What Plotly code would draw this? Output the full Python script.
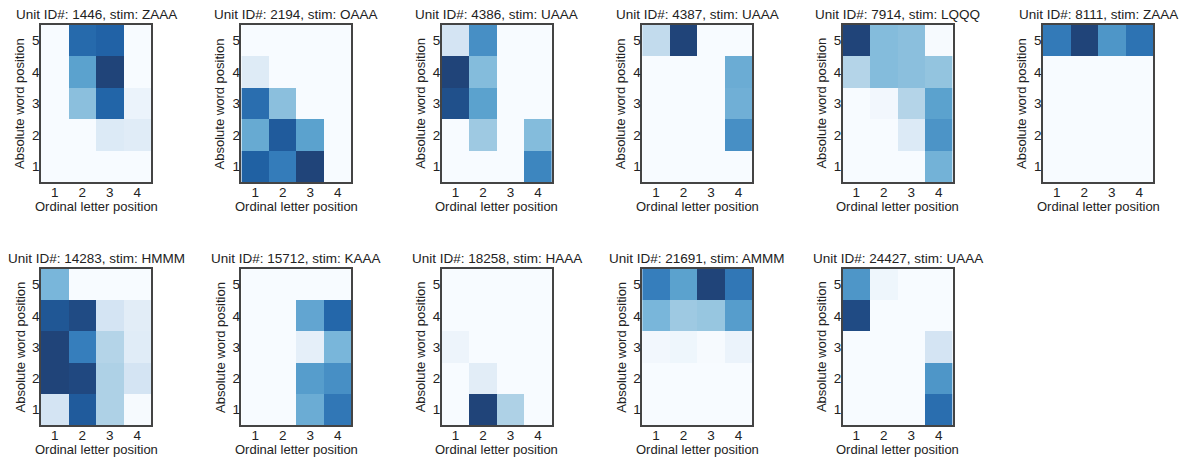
import plotly.graph_objects as go

# ---------------- data ----------------
units = ["1446", "2194", "4386", "4387", "7914", "8111",
         "14283", "15712", "18258", "21691", "24427"]
stims = ["ZAAA", "OAAA", "UAAA", "UAAA", "LQQQ", "ZAAA",
         "HMMM", "KAAA", "HAAA", "AMMM", "UAAA"]
letter_positions = [1, 2, 3, 4]
word_positions = [1, 2, 3, 4, 5]

# rows: word position 1..5 (bottom to top); columns: letter position 1..4
z_1446 = [[0, 0, 0, 0],
          [0, 0, 0.15, 0.13],
          [0, 0.45, 0.86, 0.07],
          [0, 0.6, 1.0, 0],
          [0, 0.84, 0.87, 0]]
z_2194 = [[0.88, 0.76, 1.0, 0],
          [0.56, 0.9, 0.6, 0],
          [0.82, 0.45, 0, 0],
          [0.14, 0, 0, 0],
          [0, 0, 0, 0]]
z_4386 = [[0, 0, 0, 0.72],
          [0, 0.4, 0, 0.47],
          [0.95, 0.6, 0, 0],
          [1.0, 0.47, 0, 0],
          [0.2, 0.68, 0, 0]]
z_4387 = [[0, 0, 0, 0],
          [0, 0, 0, 0.68],
          [0, 0, 0, 0.53],
          [0, 0, 0, 0.55],
          [0.28, 1.0, 0, 0]]
z_7914 = [[0, 0, 0, 0.52],
          [0, 0, 0.15, 0.66],
          [0, 0.03, 0.33, 0.6],
          [0.33, 0.47, 0.45, 0.43],
          [1.0, 0.47, 0.45, 0.01]]
z_8111 = [[0, 0, 0, 0],
          [0, 0, 0, 0],
          [0, 0, 0, 0],
          [0, 0, 0, 0],
          [0.77, 1.0, 0.65, 0.8]]
z_14283 = [[0.2, 0.9, 0.35, 0.01],
           [1.0, 0.98, 0.35, 0.2],
           [1.0, 0.75, 0.33, 0.13],
           [0.92, 0.97, 0.2, 0.12],
           [0.5, 0, 0, 0]]
z_15712 = [[0, 0, 0.55, 0.78],
           [0, 0, 0.62, 0.68],
           [0, 0, 0.1, 0.5],
           [0, 0, 0.58, 0.85],
           [0, 0, 0, 0]]
z_18258 = [[0, 1.0, 0.35, 0],
           [0, 0.12, 0, 0],
           [0.06, 0, 0, 0],
           [0, 0, 0, 0],
           [0, 0, 0, 0]]
z_21691 = [[0, 0, 0, 0],
           [0, 0, 0, 0],
           [0.03, 0.05, 0.01, 0.07],
           [0.5, 0.4, 0.42, 0.62],
           [0.75, 0.6, 1.0, 0.78]]
z_24427 = [[0, 0, 0, 0.82],
           [0, 0, 0, 0.65],
           [0, 0, 0, 0.2],
           [0.97, 0, 0, 0],
           [0.65, 0.05, 0, 0]]

grids = [z_1446, z_2194, z_4386, z_4387, z_7914, z_8111,
         z_14283, z_15712, z_18258, z_21691, z_24427]

# matplotlib "Blues"
blues = [[0.0, "#f7fbff"], [0.125, "#deebf7"], [0.25, "#c6dbef"],
         [0.375, "#9ecae1"], [0.5, "#6baed6"], [0.625, "#4292c6"],
         [0.75, "#2171b5"], [0.875, "#08519c"], [1.0, "#08306b"]]

W, H = 1188, 460
OFF = 8  # page body margin compensation
FONT = "Liberation Sans, Arial, sans-serif"
TXT = "#222222"
fig = go.Figure()

rows_px = [(25, 182), (269, 425)]
annotations = []
for i, (u, s, z) in enumerate(zip(units, stims, grids)):
    r, c = divmod(i, 6)
    left = 41 + 200.4 * c - OFF
    right = left + 110
    top, bot = rows_px[r]
    top -= OFF
    bot -= OFF
    n = i + 1
    xa = "x" if n == 1 else f"x{n}"
    ya = "y" if n == 1 else f"y{n}"
    fig.add_trace(go.Heatmap(
        x=letter_positions, y=word_positions, z=z,
        colorscale=blues, zmin=0, zmax=1, showscale=False,
        xaxis=xa, yaxis=ya, opacity=0.9))
    common = dict(showgrid=False, zeroline=False, showline=True, mirror=True,
                  linecolor="#444444", linewidth=1.5, ticks="",
                  ticklabelstandoff=-3,
                  tickfont=dict(family=FONT, size=13.5, color=TXT))
    fig.layout[f"xaxis{'' if n == 1 else n}"] = dict(
        domain=[left / W, right / W], anchor=ya,
        range=[0.5, 4.5], tickvals=letter_positions, **common)
    fig.layout[f"yaxis{'' if n == 1 else n}"] = dict(
        domain=[1 - bot / H, 1 - top / H], anchor=xa,
        range=[0.5, 5.5], tickvals=word_positions, **common)
    cx = (left + right) / 2
    annotations.append(dict(text=f"Unit ID#: {u}, stim: {s}", x=cx / W,
                            y=1 - (top - 2) / H, xref="paper", yref="paper",
                            xanchor="center", yanchor="bottom", showarrow=False,
                            borderpad=0,
                            font=dict(family=FONT, size=13.5, color=TXT)))
    annotations.append(dict(text="Ordinal letter position", x=cx / W,
                            y=1 - (bot + 15) / H, xref="paper", yref="paper",
                            xanchor="center", yanchor="top", showarrow=False,
                            font=dict(family=FONT, size=13, color=TXT)))
    annotations.append(dict(text="Absolute word position", x=(left - 12) / W,
                            y=1 - ((top + bot) / 2) / H, xref="paper", yref="paper",
                            xanchor="right", yanchor="middle", textangle=-90,
                            showarrow=False,
                            font=dict(family=FONT, size=13, color=TXT)))

fig.update_layout(width=W, height=H, margin=dict(l=0, r=0, t=0, b=0),
                  paper_bgcolor="white", plot_bgcolor="white",
                  annotations=annotations, showlegend=False)
fig.write_html("out.html")
